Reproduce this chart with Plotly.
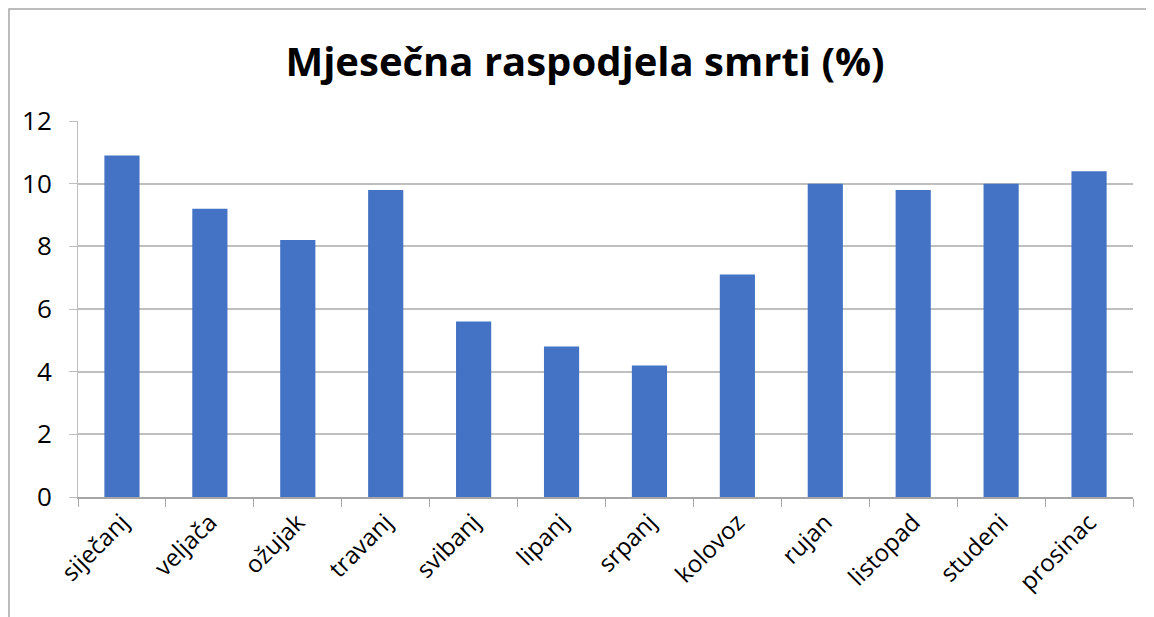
import plotly.graph_objects as go

months = ["siječanj", "veljača", "ožujak", "travanj", "svibanj", "lipanj",
          "srpanj", "kolovoz", "rujan", "listopad", "studeni", "prosinac"]
values = [10.9, 9.2, 8.2, 9.8, 5.6, 4.8, 4.2, 7.1, 10.0, 9.8, 10.0, 10.4]
y_ticks = [0, 2, 4, 6, 8, 10, 12]

OFF = 8  # browser body margin
W, H = 1154 - OFF, 617 - OFF
ml, mt = 78 - OFF, 121 - OFF
mr, mb = 1154 - 1133, 617 - 497
pw, ph = W - ml - mr, H - mt - mb

fig = go.Figure(go.Bar(x=months, y=values, marker_color="#4472C4",
                       marker_line_width=0))

fig.update_layout(
    width=W, height=H,
    margin=dict(l=ml, r=mr, t=mt, b=mb, pad=0),
    paper_bgcolor="white", plot_bgcolor="white",
    bargap=0.6,
    showlegend=False,
    font=dict(family="Open Sans, Liberation Sans, sans-serif", color="#000000"),
    title=dict(text="<b>Mjesečna raspodjela smrti (%)</b>",
               font=dict(size=40, family="Open Sans, sans-serif", color="#000000"),
               x=(585 - OFF) / W, xanchor="center", y=1 - (62 - OFF) / H,
               yanchor="middle"),
    xaxis=dict(type="category", tickangle=-45, tickson="boundaries",
               ticks="outside", ticklen=8, tickcolor="#A6A6A6",
               showline=True, linecolor="#A6A6A6", linewidth=1.5,
               showgrid=False, tickfont=dict(size=24), ticklabelstandoff=0,
               automargin=False),
    yaxis=dict(range=[0, 12], tickvals=y_ticks, ticks="outside", ticklen=8,
               tickcolor="#BFBFBF", showgrid=True, gridcolor="#BFBFBF",
               gridwidth=1.5, showline=True, linecolor="#BFBFBF",
               zeroline=False, tickfont=dict(size=26, color="#000000"),
               ticklabelstandoff=12, automargin=False),
    shapes=[dict(type="rect", xref="paper", yref="paper",
                 x0=(9 - 78) / pw, x1=1 + (mr + 20) / pw,
                 y0=-(mb + 20) / ph, y1=1 + (121 - 9) / ph,
                 line=dict(color="#A6A6A6", width=1.5), layer="below")],
)

fig.write_html("out.html")
